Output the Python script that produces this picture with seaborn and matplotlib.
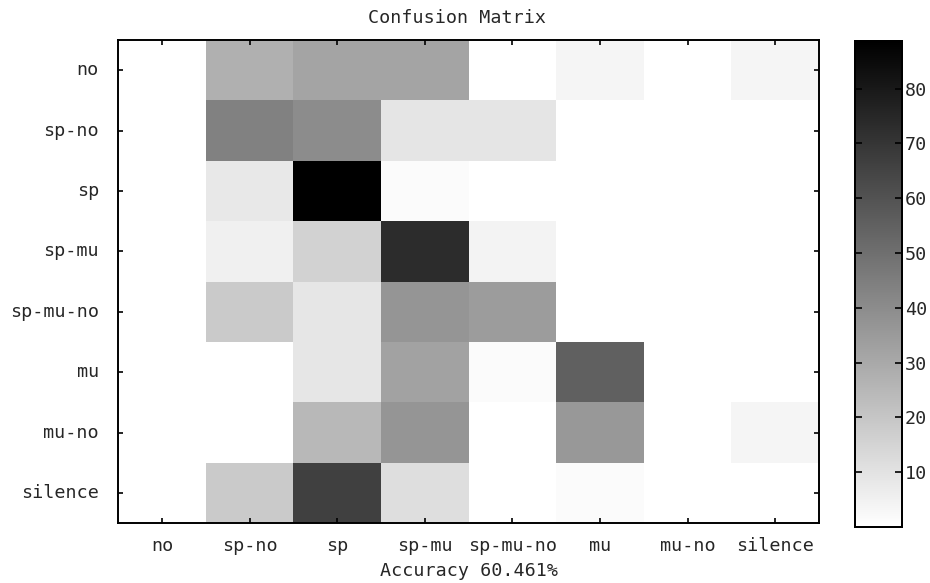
import numpy as np
import pandas as pd
import matplotlib
matplotlib.use("Agg")
import matplotlib.pyplot as plt
import seaborn as sns

# ---- data ----
labels = ["no", "sp-no", "sp", "sp-mu", "sp-mu-no", "mu", "mu-no", "silence"]
row_no       = [0, 27.5, 31.8, 31.8, 0.0, 3.5, 0, 3.5]
row_sp_no    = [0, 44.0, 40.0, 9.3, 9.3, 0.0, 0, 0.0]
row_sp       = [0, 8.0, 88.7, 1.7, 0.0, 0.0, 0, 0.0]
row_sp_mu    = [0, 5.2, 15.7, 73.4, 4.5, 0.0, 0, 0.0]
row_sp_mu_no = [0, 18.4, 9.0, 36.9, 34.4, 0.0, 0, 0.0]
row_mu       = [0, 0.0, 9.0, 32.3, 1.7, 55.3, 0, 0.0]
row_mu_no    = [0, 0.0, 24.7, 36.9, 0.0, 35.8, 0, 3.5]
row_silence  = [0, 18.4, 66.4, 11.5, 0.0, 1.7, 0, 0.0]
cbar_ticks = [10, 20, 30, 40, 50, 60, 70, 80]
title = "Confusion Matrix"
xlabel = "Accuracy 60.461%"

matrix = pd.DataFrame(
    [row_no, row_sp_no, row_sp, row_sp_mu, row_sp_mu_no, row_mu, row_mu_no, row_silence],
    index=labels, columns=labels)

sns.set_style("white")
plt.rcParams["font.family"] = ["DejaVu Sans Mono", "DejaVu Sans"]
plt.rcParams["axes.axisbelow"] = False
FS = 13.2

fig = plt.figure(figsize=(9.30, 5.83), dpi=100)
ax = fig.add_axes([118.3 / 930, 59.7 / 583, 700.7 / 930, 483.3 / 583])
cax = fig.add_axes([855 / 930, 56 / 583, 47 / 930, 486 / 583])

sns.heatmap(matrix, ax=ax, cbar_ax=cax, cmap="gray_r", vmin=0, vmax=88.7,
            cbar_kws={"ticks": cbar_ticks})
ax.set_axisbelow(False)
cax.set_axisbelow(False)

for sp in ax.spines.values():
    sp.set_visible(True)
    sp.set_color("black")
    sp.set_linewidth(1.4)
    sp.set_zorder(5)

ax.tick_params(axis="both", direction="in", length=3.6, width=1.2, color="black",
               top=True, right=True, bottom=True, left=True, labelsize=FS)
ax.tick_params(axis="y", pad=14, rotation=0)
ax.tick_params(axis="x", pad=10, rotation=0)
ax.set_xticklabels(labels, fontsize=FS)
ax.set_yticklabels(labels, fontsize=FS, rotation=0)
ax.set_xlabel(xlabel, fontsize=FS, labelpad=5)
ax.set_ylabel("")
ax.xaxis.set_zorder(6)
ax.yaxis.set_zorder(6)

fig.text(457 / 930, 1 - 18 / 583, title, ha="center", va="center", fontsize=FS)

cax.tick_params(direction="in", length=5, width=1.2, color="black", left=True, right=True,
                labelsize=FS, pad=2)
cax.yaxis.set_zorder(6)
for sp in cax.spines.values():
    sp.set_visible(True)
    sp.set_color("black")
    sp.set_linewidth(1.4)

fig.savefig("out.png", dpi=100)
